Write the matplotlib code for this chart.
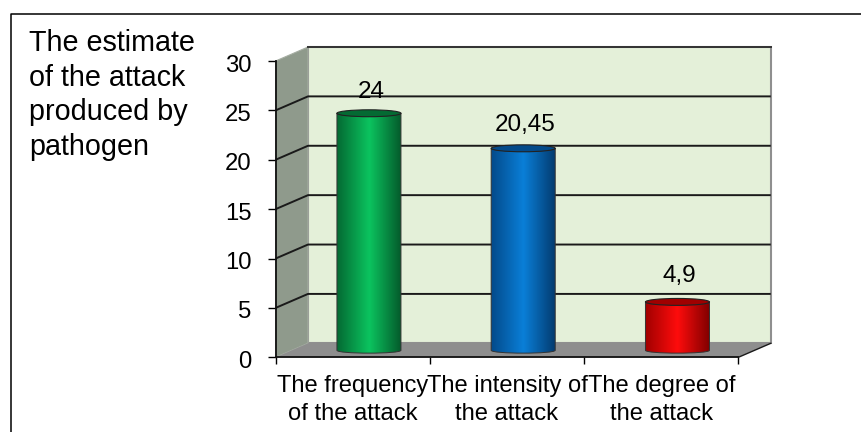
import matplotlib
matplotlib.use("Agg")
import matplotlib.pyplot as plt
import matplotlib.colors as mcolors
import matplotlib.transforms as mtrans
from matplotlib.patches import Ellipse, Polygon, PathPatch
from matplotlib.path import Path
import numpy as np

plt.rcParams['font.family'] = ['Liberation Sans', 'DejaVu Sans']

categories = ["The frequency\nof the attack", "The intensity of\nthe attack", "The degree of\nthe attack"]
values = [24, 20.45, 4.9]
value_labels = ["24", "20,45", "4,9"]
y_ticks = [0, 5, 10, 15, 20, 25, 30]
title_lines = ["The estimate", "of the attack", "produced by", "pathogen"]
bar_shades = [
    ["#046a33", "#0bc45f", "#04582a"],
    ["#034a8a", "#0a7fd8", "#033a6e"],
    ["#a00000", "#ff0c0c", "#800000"],
]
label_lift = [1.0, 1.2, 1.5]

W, H = 861, 432
fig = plt.figure(figsize=(W / 100, H / 100), dpi=100)

# feste Pixelposition der vorderen Achsen
x0, x1, y0, y1 = 275.6, 738.4, 357.3, 61
ax = fig.add_axes([x0 / W, 1 - y0 / H, (x1 - x0) / W, (y0 - y1) / H])
ax.set_xlim(0, 3)
ax.set_ylim(0, 30)
ax.patch.set_alpha(0)

# Tiefe des 3D-Effekts in Dateneinheiten
dx = 32.4 / (x1 - x0) * 3
dy = 14 / (y0 - y1) * 30

# Rueckwand, Seitenwand, Boden
ax.add_patch(Polygon([(dx, dy), (3 + dx, dy), (3 + dx, 30 + dy), (dx, 30 + dy)],
                     fc="#e4f0d9", ec="#8f8f8f", lw=1.5, clip_on=False, zorder=1))
ax.add_patch(Polygon([(0, 0), (dx, dy), (dx, 30 + dy), (0, 30)],
                     fc="#8f9a8c", ec="#a5ada2", lw=0.8, clip_on=False, zorder=1))
ax.add_patch(Polygon([(0, 0), (3, 0), (3 + dx, dy), (dx, dy)],
                     fc="#8e8e8e", ec="none", clip_on=False, zorder=1))

# Gitterlinien
for t in y_ticks[1:-1]:
    ax.plot([0, dx, 3 + dx], [t, t + dy, t + dy], color="#1a1a1a", lw=1.4,
            clip_on=False, zorder=2, solid_capstyle="butt")
ax.plot([dx, 3 + dx], [30 + dy, 30 + dy], color="#333333", lw=1.4, clip_on=False, zorder=2)
ax.plot([3, 3 + dx], [0, dy], color="#1a1a1a", lw=1.0, clip_on=False, zorder=2)

# Zylinder
bar_w = 0.415
base = dy / 2
cap = 0.7
for i, (v, lab, shades) in enumerate(zip(values, value_labels, bar_shades)):
    cx = i + 0.5 + dx / 2
    left, right = cx - bar_w / 2, cx + bar_w / 2
    top = base + v
    verts = [(left, top), (left, base), (cx - bar_w / 2, base - cap * 0.55), (cx + bar_w / 2, base - cap * 0.55),
             (right, base), (right, top), (cx + bar_w / 2, top - cap * 0.55), (cx - bar_w / 2, top - cap * 0.55),
             (left, top)]
    codes = [Path.MOVETO, Path.LINETO, Path.CURVE4, Path.CURVE4, Path.CURVE4,
             Path.LINETO, Path.CURVE4, Path.CURVE4, Path.CURVE4]
    body = PathPatch(Path(verts, codes), fc="none", ec="#333333", lw=0.7, clip_on=False, zorder=5)
    cmap = mcolors.LinearSegmentedColormap.from_list("bar%d" % i, shades)
    grad = np.linspace(0, 1, 128).reshape(1, -1)
    im = ax.imshow(grad, extent=[left, right, base - cap, top], cmap=cmap, aspect="auto",
                   origin="lower", zorder=4)
    ax.add_patch(body)
    im.set_clip_path(body)
    ax.add_patch(Ellipse((cx, top), bar_w, cap, fc=shades[0], ec="#222222", lw=0.8,
                         clip_on=False, zorder=6))
    ax.text(cx + 0.012, top + label_lift[i], lab, ha="center", va="bottom", fontsize=17.5,
            color="black", zorder=7, clip_on=False)

# Achsen
ax.set_xlim(0, 3)
ax.set_ylim(0, 30)
for s in ["top", "right"]:
    ax.spines[s].set_visible(False)
for s in ["left", "bottom"]:
    ax.spines[s].set_linewidth(1.3)
    ax.spines[s].set_color("#111111")
    ax.spines[s].set_zorder(8)
ax.set_yticks(y_ticks)
ax.set_xticks([0, 1, 2, 3])
ax.set_xticklabels([])
ax.set_xticks([0.5, 1.5, 2.5], minor=True)
ax.set_xticklabels(categories, minor=True, fontsize=17.1, linespacing=1.36)
ax.tick_params(axis="x", which="minor", length=0, pad=12.5)
ax.tick_params(axis="x", which="major", length=5, width=1, direction="out")
ax.tick_params(axis="y", length=5.7, width=1, labelsize=17.2, pad=11.5)

# y-Beschriftung etwas tiefer als der Tick
shift = mtrans.ScaledTranslation(0, -2 / 100, fig.dpi_scale_trans)
for lbl in ax.get_yticklabels():
    lbl.set_transform(lbl.get_transform() + shift)

for k, line in enumerate(title_lines):
    fig.text(29 / W, 1 - (43 + k * 34.7) / H, line, fontsize=20.7, va="center", ha="left")

# Aussenrahmen (rechts und unten abgeschnitten)
fig.add_artist(plt.Line2D([10.5 / W, 10.5 / W, 1], [0, 1 - 13.5 / H, 1 - 13.5 / H],
                          color="black", lw=1.1))

fig.savefig("out.png", dpi=100, facecolor="white")
